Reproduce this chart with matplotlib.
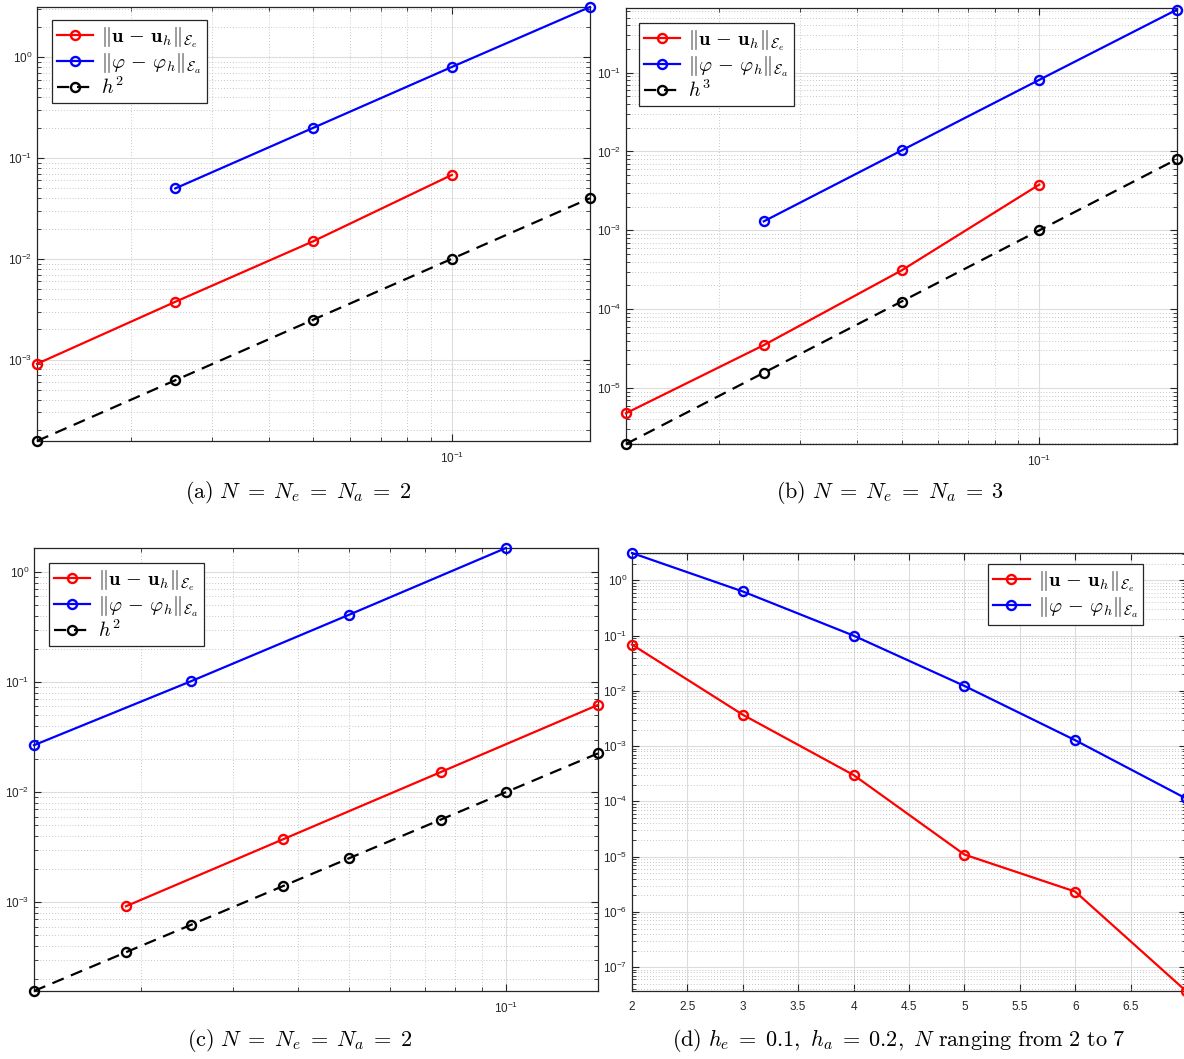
import matplotlib
matplotlib.use("Agg")
import matplotlib.pyplot as plt
from matplotlib.ticker import LogLocator, NullFormatter, FixedLocator, FuncFormatter
from matplotlib.font_manager import FontProperties

plt.rcParams['font.family'] = ['Liberation Sans', 'DejaVu Sans']

# (a) N = Ne = Na = 2
h_a = [0.0125, 0.025, 0.05, 0.1, 0.2]
eu_a = [9.1e-4, 3.75e-3, 1.5e-2, 6.8e-2]        # on h_a[:4]
ephi_a = [0.05, 0.2, 0.8, 3.15]                  # on h_a[1:]
ref_a = [1.5625e-4, 6.25e-4, 2.5e-3, 1.0e-2, 4.0e-2]

# (b) N = Ne = Na = 3
h_b = [0.0125, 0.025, 0.05, 0.1, 0.2]
eu_b = [4.8e-6, 3.5e-5, 3.1e-4, 3.8e-3]
ephi_b = [1.3e-3, 1.03e-2, 8.1e-2, 0.63]
ref_b = [1.953e-6, 1.5625e-5, 1.25e-4, 1.0e-3, 8.0e-3]

# (c) different meshes for u and phi
h_cu = [0.01875, 0.0375, 0.075, 0.15]
eu_c = [9.2e-4, 3.74e-3, 1.52e-2, 6.2e-2]
h_cphi = [0.0125, 0.025, 0.05, 0.1]
ephi_c = [0.0267, 0.102, 0.407, 1.65]
h_c = [0.0125, 0.01875, 0.025, 0.0375, 0.05, 0.075, 0.1, 0.15]
ref_c = [1.5625e-4, 3.516e-4, 6.25e-4, 1.406e-3, 2.5e-3, 5.625e-3, 1.0e-2, 2.25e-2]

# (d) p-refinement
N_d = [2, 3, 4, 5, 6, 7]
eu_d = [0.0688, 3.7e-3, 3.0e-4, 1.09e-5, 2.33e-6, 3.7e-8]
ephi_d = [3.13, 0.63, 0.1, 0.0123, 1.28e-3, 1.13e-4]
N_ticks = [2, 2.5, 3, 3.5, 4, 4.5, 5, 5.5, 6, 6.5]

lab_u = r'$\|\mathbf{u}\,-\,\mathbf{u}_h\|_{\mathcal{E}_e}$'
lab_phi = r'$\|\varphi\,-\,\varphi_h\|_{\mathcal{E}_a}$'

W, H = 1184, 1059
fig = plt.figure(figsize=(W / 100, H / 100), dpi=100)


def add_ax(l, r, t, b):
    return fig.add_axes([l / W, 1 - b / H, (r - l) / W, (b - t) / H])


def style(ax, logx=True):
    ax.set_yscale('log')
    if logx:
        ax.set_xscale('log')
        ax.xaxis.set_minor_formatter(NullFormatter())
    ax.yaxis.set_major_locator(LogLocator(base=10, numticks=20))
    ax.yaxis.set_minor_locator(LogLocator(base=10, subs=range(2, 10), numticks=20))
    ax.yaxis.set_minor_formatter(NullFormatter())
    ax.grid(True, which='major', color='#dcdcdc', lw=0.8, ls='-')
    ax.grid(True, which='minor', color='#b4b4b4', lw=0.6, ls=(0, (1, 2.5)))
    ax.set_axisbelow(True)
    ax.tick_params(which='both', direction='in', top=True, right=True,
                   colors='#262626', labelsize=8.5)
    ax.tick_params(axis='x', which='major', pad=7)
    ax.tick_params(which='major', length=5)
    ax.tick_params(which='minor', length=3)
    for s in ax.spines.values():
        s.set_color('#262626')
        s.set_linewidth(0.9)


kw = dict(marker='o', mfc='none', ms=6.5, mew=1.7, lw=1.6, clip_on=False, zorder=3)
leg_prop = FontProperties(size=14.5, math_fontfamily='cm')
leg_kw = dict(prop=leg_prop, fancybox=False, framealpha=1, edgecolor='#262626',
              handlelength=1.8, handletextpad=0.4, borderpad=0.25, labelspacing=0.05,
              borderaxespad=0)


def legend(ax, loc, anchor):
    lg = ax.legend(loc=loc, bbox_to_anchor=anchor, **leg_kw)
    lg.get_frame().set_linewidth(0.9)


# (a)
ax = add_ax(37, 590, 7, 441)
style(ax)
ax.plot(h_a[:4], eu_a, color='red', label=lab_u, **kw)
ax.plot(h_a[1:], ephi_a, color='blue', label=lab_phi, **kw)
ax.plot(h_a, ref_a, color='black', dashes=(5.5, 3.5), label=r'$h^2$', **kw)
ax.set_xlim(0.0125, 0.2)
ax.set_ylim(1.5625e-4, 3.15)
legend(ax, 'upper left', (15 / 553, 1 - 13 / 434))

# (b)
ax = add_ax(626, 1177, 8, 444)
style(ax)
ax.plot(h_b[:4], eu_b, color='red', label=lab_u, **kw)
ax.plot(h_b[1:], ephi_b, color='blue', label=lab_phi, **kw)
ax.plot(h_b, ref_b, color='black', dashes=(5.5, 3.5), label=r'$h^3$', **kw)
ax.set_xlim(0.0125, 0.2)
ax.set_ylim(1.953e-6, 0.66)
legend(ax, 'upper left', (13 / 551, 1 - 15 / 436))

# (c)
ax = add_ax(34, 598, 548, 991)
style(ax)
ax.plot(h_cu, eu_c, color='red', label=lab_u, **kw)
ax.plot(h_cphi, ephi_c, color='blue', label=lab_phi, **kw)
ax.plot(h_c, ref_c, color='black', dashes=(5.5, 3.5), label=r'$h^2$', **kw)
ax.set_xlim(0.0125, 0.15)
ax.set_ylim(1.5625e-4, 1.65)
legend(ax, 'upper left', (15 / 564, 1 - 15 / 443))

# (d)
ax = add_ax(632, 1186, 553, 991)
style(ax, logx=False)
ax.plot(N_d, eu_d, color='red', label=lab_u, **kw)
ax.plot(N_d, ephi_d, color='blue', label=lab_phi, **kw)
ax.set_xlim(2, 7)
ax.set_ylim(3.7e-8, 3.13)
ax.xaxis.set_major_locator(FixedLocator(N_ticks))
ax.xaxis.set_major_formatter(FuncFormatter(lambda v, p: f'{v:g}'))
legend(ax, 'upper right', (1 - 43 / 554, 1 - 11 / 438))

cap = dict(ha='center', va='center', fontsize=16, math_fontfamily='cm')
fig.text(298 / W, 1 - 493 / H, r'$\mathrm{(a)}\ N\;=\;N_e\;=\;N_a\;=\;2$', **cap)
fig.text(890 / W, 1 - 493 / H, r'$\mathrm{(b)}\ N\;=\;N_e\;=\;N_a\;=\;3$', **cap)
fig.text(300 / W, 1 - 1041 / H, r'$\mathrm{(c)}\ N\;=\;N_e\;=\;N_a\;=\;2$', **cap)
fig.text(899 / W, 1 - 1041 / H,
         r'$\mathrm{(d)}\ h_e\;=\;0.1,\ h_a\;=\;0.2,\ N\ \mathrm{ranging\ from\ 2\ to\ 7}$', **cap)

fig.savefig('out.png', dpi=100)
